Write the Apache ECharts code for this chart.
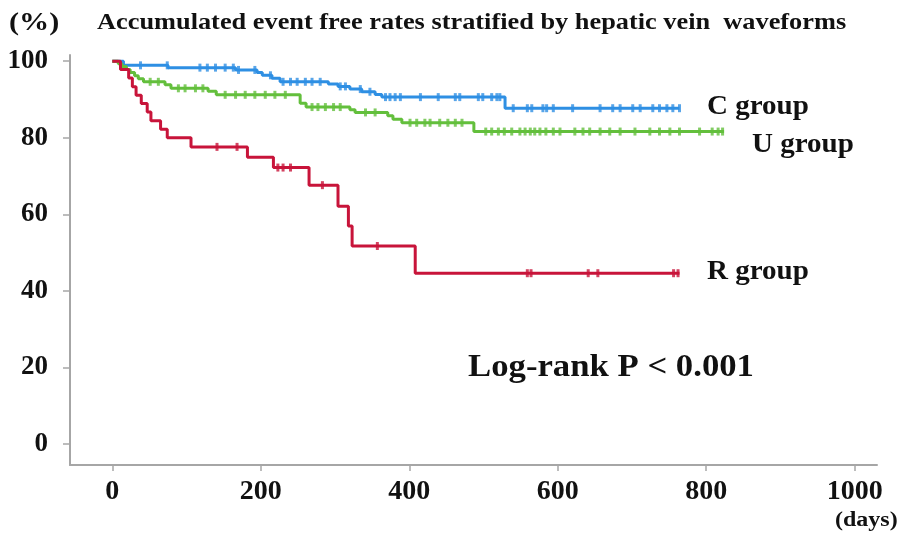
<!DOCTYPE html>
<html><head><meta charset="utf-8">
<script src="https://cdn.jsdelivr.net/npm/echarts@6/dist/echarts.min.js"></script>
<style>html,body{margin:0;padding:0;background:#fff}#c{width:899px;height:533px}</style>
</head><body><div id="c"></div>
<script>
const xTicks = [0, 200, 400, 600, 800, 1000];
const yTicks = [0, 20, 40, 60, 80, 100];

// C group (blue): [day, rate %]
const cEvents = [[0,100],[15,98.9],[75,98.3],[166,97.7],[195,97.0],[202,96.3],[215,95.5],[226,94.6],[291,94.0],[304,93.4],[320,92.7],[336,92.0],[354,91.3],[363,90.6],[529,87.7]];
const cEnd = 764;
const cCensor = [38,74,118,128,139,152,163,170,192,213,230,240,249,260,269,280,307,314,334,347,368,374,381,388,415,439,462,468,493,499,511,518,522,540,559,565,580,585,594,620,657,674,684,701,711,728,737,747,755,764];

// U group (green)
const uEvents = [[0,100],[8,99.3],[13,98.6],[19,97.8],[24,97.0],[30,96.2],[35,95.4],[42,94.6],[71,93.8],[79,92.9],[129,92.1],[140,91.2],[253,89.0],[261,88.0],[320,87.3],[327,86.6],[371,85.7],[378,84.8],[390,83.9],[487,81.6]];
const uEnd = 824;
const uCensor = [51,62,89,98,112,122,152,166,179,192,206,219,233,269,277,287,298,307,341,354,401,410,421,428,441,452,462,471,503,511,520,528,538,549,556,563,569,576,584,594,603,623,634,643,657,670,684,704,724,737,751,764,791,808,816,822];

// R group (red)
const rEvents = [[0,100],[11,97.8],[22,95.6],[27,93.3],[32,91.1],[39,88.9],[47,86.7],[52,84.4],[65,82.2],[74,80.0],[106,77.6],[182,74.9],[217,72.2],[265,67.6],[304,62.1],[318,56.9],[323,51.7],[408,44.6]];
const rEnd = 764;
const rCensor = [141,168,223,230,240,283,357,559,564,641,654,756,762];

const colC = '#2e8fe3', colU = '#63bf3c', colR = '#c8143a';

function stepData(ev, end) {
  const d = ev.map(p => [p[0], p[1]]);
  d.push([end, ev[ev.length - 1][1]]);
  return d;
}
function valueAt(ev, t) {
  let v = ev[0][1];
  for (const p of ev) { if (p[0] <= t) v = p[1]; }
  return v;
}
function censorData(ev, cs) { return cs.map(t => [t, valueAt(ev, t)]); }

const font = '"Liberation Serif", "Times New Roman", serif';
const chart = echarts.init(document.getElementById('c'));

function lineS(name, ev, end, col) {
  return { name, type: 'line', step: 'end', data: stepData(ev, end), showSymbol: false,
    lineStyle: { color: col, width: 3 }, itemStyle: { color: col }, z: 3, silent: true, animation: false };
}
function censS(name, ev, cs, col) {
  return { name: name + ' censored', type: 'scatter', data: censorData(ev, cs), symbol: 'rect',
    symbolSize: [3, 8], itemStyle: { color: col }, z: 4, silent: true, animation: false };
}
function txt(x, y, text, size, sx) {
  return { type: 'text', x, y, scaleX: sx, scaleY: 1,
    style: { text, font: 'bold ' + size + 'px ' + font, fill: '#111', verticalAlign: 'middle' } };
}

chart.setOption({
  backgroundColor: '#fff',
  animation: false,
  grid: { left: 70, right: 22, top: 55, bottom: 68, containLabel: false },
  xAxis: {
    type: 'value', min: -57, max: 1030,
    axisLine: { show: true, onZero: false, lineStyle: { color: '#a6a6a6', width: 2 } },
    axisTick: { show: true, length: 6, customValues: xTicks, lineStyle: { color: '#a6a6a6', width: 1.5 } },
    axisLabel: { customValues: xTicks, formatter: v => String(v), color: '#111', fontFamily: font, fontWeight: 'bold', fontSize: 28, margin: 13 },
    splitLine: { show: false }
  },
  yAxis: {
    type: 'value', min: -5.5, max: 101.6,
    axisLine: { show: true, onZero: false, lineStyle: { color: '#a6a6a6', width: 2 } },
    axisTick: { show: true, length: 7, customValues: yTicks, lineStyle: { color: '#a6a6a6', width: 1.5 } },
    axisLabel: { customValues: yTicks, formatter: v => String(v), color: '#111', fontFamily: font, fontWeight: 'bold', fontSize: 27, margin: 22 },
    splitLine: { show: false }
  },
  series: [
    lineS('C group', cEvents, cEnd, colC), censS('C group', cEvents, cCensor, colC),
    lineS('U group', uEvents, uEnd, colU), censS('U group', uEvents, uCensor, colU),
    lineS('R group', rEvents, rEnd, colR), censS('R group', rEvents, rCensor, colR)
  ],
  graphic: [
    txt(9, 23, '(%)', 26, 1.16),
    txt(97, 23, 'Accumulated event free rates stratified by hepatic vein  waveforms', 23, 1.145),
    txt(707, 107, 'C group', 27, 1.075),
    txt(752, 145, 'U group', 27, 1.075),
    txt(707, 272, 'R group', 27, 1.075),
    txt(468, 368, 'Log-rank P < 0.001', 31, 1.12),
    txt(835, 521, '(days)', 20, 1.2)
  ]
});
</script>
</body></html>
